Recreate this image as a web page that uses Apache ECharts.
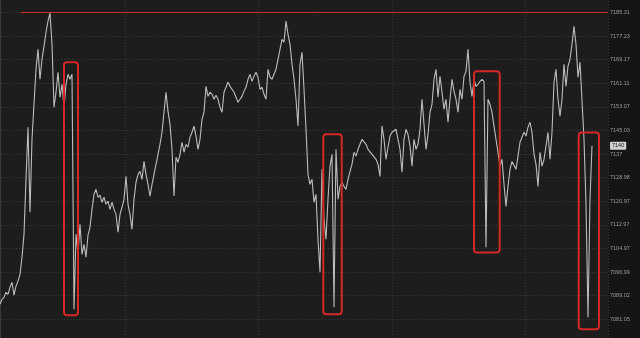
<!DOCTYPE html>
<html><head><meta charset="utf-8">
<script src="https://cdn.jsdelivr.net/npm/echarts@6/dist/echarts.min.js"></script>
<style>html,body{margin:0;padding:0;background:#151515}#c{width:640px;height:338px}</style>
</head><body><div id="c"></div>
<script>
// Y tick labels (bottom to top)
const yTickLabels = ["7081.05","7089.02","7096.99","7104.97","7112.97","7120.97","7128.98","7137","7145.03","7153.07","7161.11","7169.17","7177.23","7185.31"];
const yMin = 7073.03, yMax = 7193.33, yInterval = 8.02;
// price series, one value per bar index
const prices = [
7086.1,7087.8,7088.5,7090.2,7089.5,7091.9,7093.6,7089.2,7092.3,7094.0,
7096.3,7102.1,7109.9,7128.6,7146.3,7117.4,7142.2,7154.1,7166.0,7172.8,
7162.6,7169.4,7173.9,7178.6,7182.4,7185.1,7174.5,7153.1,7158.2,7165.0,
7156.5,7160.9,7153.1,7160.9,7164.3,7162.6,7164.3,7084.4,7109.9,7103.1,
7113.3,7103.1,7106.5,7102.1,7109.6,7112.3,7118.4,7123.5,7125.2,7122.5,
7123.2,7120.8,7122.5,7120.1,7121.2,7118.4,7120.8,7118.4,7116.7,7110.6,
7116.7,7119.1,7121.8,7129.6,7120.1,7116.7,7111.6,7121.8,7127.6,7130.3,
7131.3,7128.6,7134.7,7130.3,7126.9,7122.9,7126.9,7130.3,7133.7,7137.1,
7140.5,7144.6,7151.4,7158.2,7151.8,7147.3,7138.8,7122.9,7136.1,7134.4,
7137.1,7141.2,7137.8,7140.5,7139.5,7142.9,7144.6,7146.7,7143.3,7138.8,
7142.2,7149.0,7151.4,7160.2,7156.8,7158.2,7157.5,7155.8,7157.2,7155.8,
7153.1,7151.4,7158.2,7159.9,7161.6,7160.2,7159.2,7158.2,7156.5,7154.8,
7155.8,7156.8,7158.5,7159.9,7162.6,7164.3,7161.9,7163.6,7165.0,7163.3,
7159.2,7159.9,7157.5,7155.8,7166.0,7163.3,7162.6,7164.3,7166.0,7169.4,
7172.8,7176.2,7175.2,7182.4,7177.9,7174.5,7167.7,7162.6,7155.8,7146.7,
7167.7,7171.8,7159.2,7145.6,7130.3,7126.9,7128.6,7120.8,7123.5,7108.2,
7097.0,7132.0,7115.0,7108.2,7121.8,7133.1,7137.1,7085.1,7138.8,7121.8,
7126.2,7127.6,7126.2,7125.2,7128.6,7131.3,7133.7,7137.8,7136.5,7138.8,
7140.5,7142.2,7141.6,7140.5,7138.8,7138.2,7137.1,7136.5,7135.4,7133.7,
7129.6,7146.7,7142.2,7135.4,7139.5,7143.3,7144.6,7145.0,7145.6,7142.2,
7138.8,7131.0,7142.2,7145.6,7143.9,7139.9,7133.1,7142.2,7138.8,7140.5,
7145.6,7155.8,7147.3,7138.8,7143.9,7151.4,7154.1,7162.6,7166.0,7156.5,
7163.6,7158.2,7152.4,7155.8,7148.0,7155.8,7162.6,7158.5,7155.8,7151.4,
7159.2,7155.8,7163.6,7165.3,7172.8,7161.6,7156.8,7162.6,7160.2,7160.9,
7161.9,7162.6,7161.9,7105.5,7155.8,7154.1,7151.4,7146.7,7142.2,7137.8,
7133.1,7135.4,7126.9,7119.4,7126.2,7132.0,7134.7,7134.4,7132.0,7136.5,
7141.2,7142.9,7144.6,7143.3,7146.3,7148.0,7144.6,7137.1,7133.7,7126.2,
7137.8,7133.1,7135.4,7139.9,7144.6,7135.4,7144.6,7161.6,7166.0,7155.8,
7150.1,7155.8,7167.7,7160.2,7167.1,7169.4,7174.5,7180.6,7174.5,7163.3,
7168.4,7168.8,7142.2,7120.1,7081.7,7121.8,7140.0
];
const highPrice = 7185.31, highLineStartIdx = 10.5;
const lastPrice = 7140;
// highlight boxes: [startIdx, endIdx, lowValue, highValue]
const boxStart = [32, 161.65, 237, 289.35];
const boxEnd = [39, 170.85, 249.85, 299.5];
const boxLow = [7082.4, 7082.7, 7103.7, 7077.6];
const boxHigh = [7168.4, 7143.9, 7165.3, 7144.5];

const xMin = -4, xMax = 304, xInterval = 66.6667;
const lineData = prices.map((v, i) => [i, v]);

const chart = echarts.init(document.getElementById('c'), null, {renderer: 'canvas'});
const fontFam = '"Liberation Sans", Arial, sans-serif';
chart.setOption({
  animation: false,
  backgroundColor: '#151515',
  grid: {left: -8, right: 32, top: -11.1, bottom: -4.8, show: true, backgroundColor: '#1d1d1d', borderWidth: 0,
         outerBoundsMode: 'none', containLabel: false},
  xAxis: {
    type: 'value', min: xMin, max: xMax, interval: xInterval,
    axisLine: {show: false}, axisTick: {show: false}, axisLabel: {show: false},
    splitLine: {show: true, lineStyle: {color: '#3a3a3a', type: [1, 2], width: 1}}
  },
  yAxis: {
    type: 'value', position: 'right', min: yMin, max: yMax, interval: yInterval,
    axisLine: {show: true, lineStyle: {color: '#3a3a3a', width: 1}},
    axisTick: {show: false},
    splitLine: {show: true, lineStyle: {color: '#3a3a3a', type: [1, 2], width: 1}},
    axisLabel: {
      show: true, margin: 2, color: '#9c9c9c', fontSize: 5.5, fontFamily: fontFam,
      formatter: function (val) {
        const k = Math.round((val - yMin) / yInterval);
        return (k >= 1 && k <= yTickLabels.length) ? yTickLabels[k - 1] : '';
      }
    }
  },
  series: [{
    name: 'high', type: 'line', data: [[highLineStartIdx, highPrice], [xMax, highPrice]],
    showSymbol: false, symbol: 'none', silent: true, z: 3,
    lineStyle: {color: '#d0302c', width: 1}
  }, {
    name: 'price', type: 'line', data: lineData, showSymbol: false, symbol: 'none', silent: true, z: 4,
    lineStyle: {color: '#bdbdbd', width: 1.1}
  }]
});

const graphics = boxStart.map((s, i) => {
  const p1 = chart.convertToPixel({gridIndex: 0}, [s, boxHigh[i]]);
  const p2 = chart.convertToPixel({gridIndex: 0}, [boxEnd[i], boxLow[i]]);
  return {
    type: 'rect', silent: true, z: 100,
    shape: {x: p1[0], y: p1[1], width: p2[0] - p1[0], height: p2[1] - p1[1], r: 3},
    style: {fill: 'none', stroke: '#d42828', lineWidth: 2}
  };
});
const lp = chart.convertToPixel({gridIndex: 0}, [xMax, lastPrice]);
graphics.push({
  type: 'text', silent: true, z: 120, x: lp[0] + 2, y: lp[1],
  style: {text: String(lastPrice), fill: '#1a1a1a', backgroundColor: '#cfcfcf',
          fontSize: 5.5, fontFamily: fontFam, padding: [1, 2], borderRadius: 1,
          verticalAlign: 'middle', align: 'left'}
});
chart.setOption({graphic: graphics});
</script></body></html>
